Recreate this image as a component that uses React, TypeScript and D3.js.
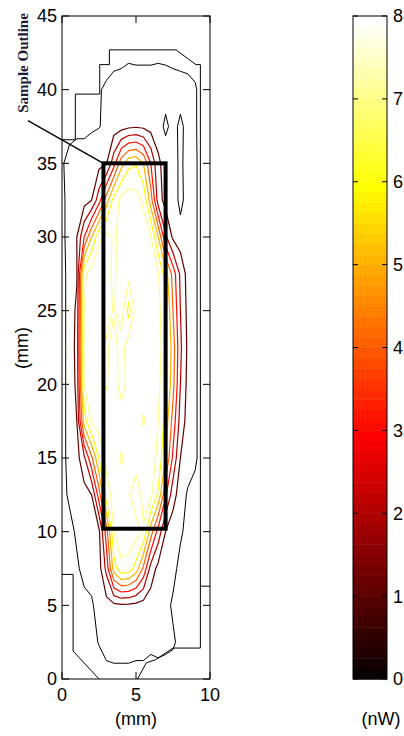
import React from "react";
import * as d3 from "d3";

// grid of the map, mm
const gridX = [0, 0.5, 1, 1.5, 2, 2.5, 3, 3.5, 4, 4.5, 5, 5.5, 6, 6.5, 7, 7.5, 8, 8.5, 9, 9.5, 10];
const gridY = [45, 42.5, 40, 37.5, 35, 32.5, 30, 27.5, 25, 22.5, 20, 17.5, 15, 12.5, 10, 7.5, 5, 2.5, 0];

// power (nW), one row per gridY value
const power = [
  [0, 0, 0, 0, 0, 0, 0, 0, 0, 0, 0, 0, 0, 0, 0, 0, 0, 0, 0, 0, 0],
  [0, 0, 0, 0, 0, 0, 0, 0.1, 0.15, 0.2, 0.2, 0.2, 0.2, 0.2, 0.2, 0.15, 0.1, 0.1, 0.1, 0, 0],
  [0, 0, 0.1, 0.15, 0.2, 0.25, 0.4, 0.5, 0.5, 0.55, 0.5, 0.5, 0.5, 0.55, 0.5, 0.5, 0.5, 0.45, 0.35, 0.1, 0],
  [0, 0.15, 0.2, 0.2, 0.25, 0.28, 0.4, 0.5, 0.6, 0.8, 0.9, 0.8, 0.6, 0.5, 0.2, 0.45, 0.2, 0.45, 0.35, 0.1, 0],
  [0.25, 0.45, 0.5, 0.5, 0.55, 0.7, 0.95, 2.6, 4.6, 5.7, 5.9, 5.0, 3.0, 1.2, 0.6, 0.5, 0.2, 0.5, 0.35, 0.15, 0],
  [0.2, 0.45, 0.5, 0.6, 1.0, 2.6, 4.5, 6.4, 7.3, 7.6, 7.4, 6.8, 4.5, 1.5, 0.6, 0.5, 0.2, 0.45, 0.35, 0.15, 0],
  [0.2, 0.45, 1.0, 3.0, 5.0, 6.8, 7.3, 6.9, 7.2, 7.4, 7.6, 7.5, 7.1, 5.0, 2.2, 0.8, 0.45, 0.4, 0.35, 0.15, 0],
  [0.2, 0.4, 0.9, 6.8, 7.5, 7.6, 7.5, 6.7, 7.8, 7.4, 7.6, 7.6, 7.4, 7.1, 5.5, 3.6, 1.8, 0.6, 0.35, 0.15, 0],
  [0.2, 0.4, 1.2, 7.0, 7.6, 7.3, 7.5, 6.9, 7.6, 5.6, 7.5, 7.7, 7.5, 7.3, 6.2, 4.0, 2.0, 0.7, 0.35, 0.15, 0],
  [0.2, 0.4, 1.3, 7.2, 7.6, 7.4, 6.8, 7.5, 6.5, 7.6, 7.8, 7.5, 7.6, 7.4, 6.4, 4.5, 2.2, 0.8, 0.35, 0.15, 0],
  [0.2, 0.4, 1.2, 7.0, 7.4, 7.6, 6.9, 7.5, 6.6, 7.3, 7.6, 7.4, 7.5, 7.2, 6.3, 4.3, 2.0, 0.7, 0.35, 0.15, 0],
  [0.2, 0.4, 1.0, 5.5, 7.2, 7.5, 7.6, 7.3, 7.5, 7.6, 7.4, 6.9, 7.3, 7.0, 5.6, 3.6, 1.6, 0.6, 0.35, 0.15, 0],
  [0.2, 0.4, 0.6, 1.8, 3.8, 6.0, 7.3, 7.5, 6.9, 7.3, 7.5, 7.6, 7.4, 6.8, 5.0, 2.8, 1.0, 0.5, 0.35, 0.15, 0],
  [0.2, 0.35, 0.45, 0.6, 1.0, 3.5, 6.6, 7.3, 7.4, 7.2, 6.4, 7.3, 7.2, 5.8, 3.2, 1.4, 0.5, 0.25, 0.2, 0.1, 0],
  [0.1, 0.2, 0.35, 0.45, 0.5, 0.8, 3.5, 7.0, 7.5, 7.6, 7.4, 6.9, 4.5, 2.6, 1.0, 0.45, 0.35, 0.2, 0.2, 0.1, 0],
  [0.1, 0.2, 0.25, 0.4, 0.45, 0.6, 2.3, 5.5, 6.8, 6.6, 5.6, 3.8, 1.6, 0.7, 0.45, 0.4, 0.2, 0.2, 0.2, 0.1, 0],
  [0.1, 0.15, 0.2, 0.2, 0.25, 0.45, 0.6, 0.75, 0.85, 0.8, 0.7, 0.55, 0.45, 0.45, 0.4, 0.25, 0.2, 0.2, 0.2, 0.1, 0],
  [0, 0.1, 0.15, 0.2, 0.2, 0.32, 0.45, 0.5, 0.5, 0.5, 0.45, 0.45, 0.4, 0.45, 0.4, 0.35, 0.2, 0.15, 0.15, 0.1, 0],
  [0, 0, 0, 0, 0.1, 0.1, 0.15, 0.15, 0.15, 0.15, 0.15, 0.15, 0.1, 0.1, 0.1, 0.1, 0.1, 0, 0, 0, 0],
];

const levels = [0.3, 1, 2, 3, 4, 5, 6, 7];
const xTicks = [0, 5, 10];
const yTicks = [0, 5, 10, 15, 20, 25, 30, 35, 40, 45];
const cbTicks = [0, 1, 2, 3, 4, 5, 6, 7, 8];

// scan mask edges, mm
const maskLines = [
  [[0, 36.6], [0.9, 36.6], [0.9, 39.7], [2.55, 39.7], [2.55, 41.7], [3.2, 41.7], [3.2, 42.7], [7.7, 42.7],
   [9.05, 41.7], [9.35, 41.7], [9.35, 2.1], [7.5, 2.1], [6.3, 1.3], [5.7, 1.1], [5.1, 0]],
  [[9.35, 6.3], [10, 6.3]],
  [[0, 7.1], [0.75, 7.1], [0.75, 1.9], [2.5, 0]],
];

const sampleBox = { x0: 2.8, x1: 7.0, y0: 10.2, y1: 35 };
const calloutFrom = [-2.3, 37.9];

const W = 404;
const H = 736;
const plot = { left: 62, right: 210, top: 16, bottom: 679 };
const bar = { left: 353, right: 387 };
const font = "'Liberation Sans', Arial, sans-serif";

// matlab "hot", 64 steps
const hot = (t: number) => {
  const k = Math.max(1, Math.min(64, Math.floor(t * 64) + 1));
  const r = Math.min(1, k / 24);
  const g = Math.max(0, Math.min(1, (k - 24) / 24));
  const b = Math.max(0, Math.min(1, (k - 48) / 16));
  return d3.rgb(r * 255, g * 255, b * 255).formatHex();
};

const App = () => {
  const x = d3.scaleLinear().domain([0, 10]).range([plot.left, plot.right]);
  const y = d3.scaleLinear().domain([0, 45]).range([plot.bottom, plot.top]);
  const cy = d3.scaleLinear().domain([0, 8]).range([plot.bottom, plot.top]);

  const nx = gridX.length;
  const ny = gridY.length;
  const dx = gridX[1] - gridX[0];
  const dy = gridY[1] - gridY[0];
  const contours = d3.contours().size([nx, ny]).thresholds(levels)(power.flat());
  const proj = d3.geoTransform({
    point(px: number, py: number) {
      this.stream.point(x(gridX[0] + (px - 0.5) * dx), y(gridY[0] + (py - 0.5) * dy));
    },
  });
  const geo = d3.geoPath(proj);
  const line = d3.line().x((d: number[]) => x(d[0])).y((d: number[]) => y(d[1]));

  const bands = d3.range(64);

  return (
    <svg width={W} height={H} style={{ position: "absolute", left: 0, top: 0, background: "#fff" }}>
      <defs>
        <clipPath id="plotclip">
          <rect x={plot.left} y={plot.top} width={plot.right - plot.left} height={plot.bottom - plot.top} />
        </clipPath>
      </defs>

      <g clipPath="url(#plotclip)">
        {maskLines.map((pts, i) => (
          <path key={"m" + i} d={line(pts as any) || ""} fill="none" stroke="#000" strokeWidth={1} />
        ))}
        {contours.map((c, i) => (
          <path
            key={"c" + i}
            d={geo(c as any) || ""}
            fill="none"
            stroke={c.value < 1 ? "#000" : hot(c.value / 8)}
            strokeWidth={c.value < 1 ? 1 : 1.2}
            strokeLinejoin="round"
          />
        ))}
      </g>

      {/* sample outline */}
      <rect
        x={x(sampleBox.x0)}
        y={y(sampleBox.y1)}
        width={x(sampleBox.x1) - x(sampleBox.x0)}
        height={y(sampleBox.y0) - y(sampleBox.y1)}
        fill="none"
        stroke="#000"
        strokeWidth={4}
      />
      <line
        x1={x(calloutFrom[0])}
        y1={y(calloutFrom[1])}
        x2={x(sampleBox.x0)}
        y2={y(sampleBox.y1)}
        stroke="#000"
        strokeWidth={1.3}
      />
      <text
        transform={`translate(28,63) rotate(-90)`}
        textAnchor="middle"
        fontFamily="'Liberation Serif', 'Times New Roman', serif"
        fontWeight="bold"
        fontSize={15}
        fill="#1c1c3a"
      >
        Sample Outline
      </text>

      {/* axes box and ticks */}
      <rect
        x={plot.left}
        y={plot.top}
        width={plot.right - plot.left}
        height={plot.bottom - plot.top}
        fill="none"
        stroke="#000"
        strokeWidth={1}
      />
      {yTicks.map((t) => (
        <g key={"y" + t}>
          <line x1={plot.left} x2={plot.left + 7} y1={y(t)} y2={y(t)} stroke="#000" />
          <line x1={plot.right} x2={plot.right - 7} y1={y(t)} y2={y(t)} stroke="#000" />
          <text x={plot.left - 5} y={y(t)} dy="0.36em" textAnchor="end" fontFamily={font} fontSize={18}>
            {t}
          </text>
        </g>
      ))}
      {xTicks.map((t) => (
        <g key={"x" + t}>
          <line x1={x(t)} x2={x(t)} y1={plot.bottom} y2={plot.bottom - 7} stroke="#000" />
          <line x1={x(t)} x2={x(t)} y1={plot.top} y2={plot.top + 7} stroke="#000" />
          <text x={x(t)} y={plot.bottom + 16} dy="0.36em" textAnchor="middle" fontFamily={font} fontSize={18}>
            {t}
          </text>
        </g>
      ))}
      <text x={x(5)} y={719} dy="0.36em" textAnchor="middle" fontFamily={font} fontSize={18}>
        (mm)
      </text>
      <text
        transform={`translate(22,348) rotate(-90)`}
        dy="0.36em"
        textAnchor="middle"
        fontFamily={font}
        fontSize={18}
      >
        (mm)
      </text>

      {/* colorbar */}
      {bands.map((k) => (
        <rect
          key={"b" + k}
          x={bar.left}
          y={cy(((k + 1) * 8) / 64)}
          width={bar.right - bar.left}
          height={cy((k * 8) / 64) - cy(((k + 1) * 8) / 64) + 0.5}
          fill={hot((k + 0.5) / 64)}
        />
      ))}
      <rect
        x={bar.left}
        y={plot.top}
        width={bar.right - bar.left}
        height={plot.bottom - plot.top}
        fill="none"
        stroke="#000"
        strokeWidth={1}
      />
      {cbTicks.map((t) => (
        <g key={"cb" + t}>
          <line x1={bar.left} x2={bar.left + 5} y1={cy(t)} y2={cy(t)} stroke="#000" />
          <line x1={bar.right} x2={bar.right - 5} y1={cy(t)} y2={cy(t)} stroke="#000" />
          <text x={bar.right + 6} y={cy(t)} dy="0.36em" fontFamily={font} fontSize={18}>
            {t}
          </text>
        </g>
      ))}
      <text x={381} y={719} dy="0.36em" textAnchor="middle" fontFamily={font} fontSize={18}>
        (nW)
      </text>
    </svg>
  );
};

export default App;
